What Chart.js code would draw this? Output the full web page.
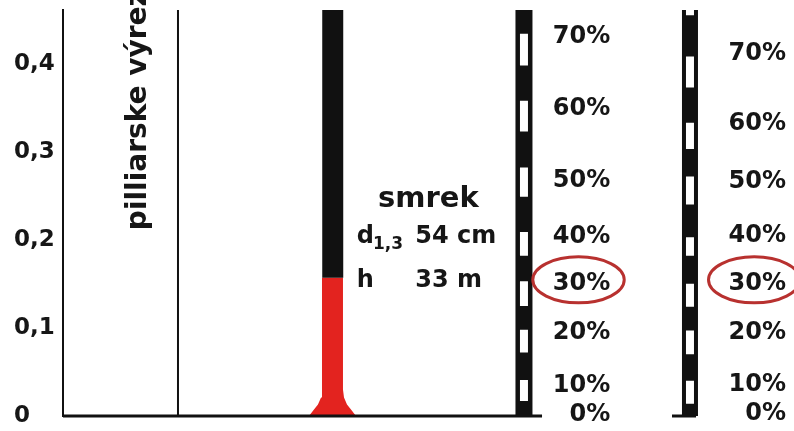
<!DOCTYPE html>
<html>
<head>
<meta charset="utf-8">
<script src="https://cdn.jsdelivr.net/npm/chart.js@4.4.1/dist/chart.umd.min.js"></script>
<style>
  html, body { margin: 0; padding: 0; background: #fff; }
  #wrap { width: 794px; height: 431px; }
</style>
</head>
<body>
<div id="wrap"><canvas id="grafico"></canvas></div>
<script>
// os y
const yTicks = [0, 0.1, 0.2, 0.3, 0.4];
const yMax = 0.461;

// polohy na osi x (relativne jednotky 0-100)
const dividerX = 15.73;
const stemX = 36.9;
const strip1X = 63.06;
const strip2X = 85.77;
const baseEnd = 65.53;
const foot2 = [83.31, 86.6];

// kmen smreka
const stemTop = 0.461;
const redTop = 0.157;
const flareX = [33.65, 34.2, 34.88, 35.3, 35.43, 35.43, 38.3, 38.3, 38.44, 38.85, 39.53, 40.08];
const flareY = [0, 0.006, 0.013, 0.021, 0.03, 0.157, 0.157, 0.03, 0.021, 0.013, 0.006, 0];

// biele useky na pruhoch
const strip1Dashes = [[0.017, 0.041], [0.072, 0.098], [0.125, 0.153], [0.182, 0.209], [0.249, 0.282], [0.323, 0.358], [0.398, 0.434]];
const strip2Dashes = [[0.014, 0.040], [0.070, 0.097], [0.124, 0.150], [0.182, 0.203], [0.240, 0.272], [0.303, 0.333], [0.373, 0.408], [0.455, 0.47]];

// percenta pri pruhoch
const pctLabels = ['0%', '10%', '20%', '30%', '40%', '50%', '60%', '70%'];
const pctPos1 = [0.001, 0.034, 0.095, 0.150, 0.203, 0.267, 0.349, 0.430];
const pctPos2 = [0.003, 0.035, 0.094, 0.150, 0.205, 0.266, 0.332, 0.411];
const circled = '30%';

const BLACK = '#111111';
const RED = '#e3231f';
const TXT = '#161616';
const FONT = 'DejaVu Sans';

const seg = (x, pairs) => pairs.flatMap(([a, b]) => [{x: x, y: a}, {x: x, y: b}, {x: x, y: null}]);
const vline = (x, a, b) => [{x: x, y: a}, {x: x, y: b}];

const lineDs = (data, color, width, extra) => Object.assign({
  data: data,
  borderColor: color,
  borderWidth: width,
  borderCapStyle: 'butt',
  pointRadius: 0,
  tension: 0,
  fill: false
}, extra || {});

const annot = {
  id: 'annot',
  afterDatasetsDraw(chart) {
    const {ctx, scales: {x, y}} = chart;
    ctx.save();
    ctx.fillStyle = TXT;
    ctx.textBaseline = 'alphabetic';
    ctx.textAlign = 'left';

    // zvisly popis
    ctx.save();
    ctx.translate(x.getPixelForValue(11.35), y.getPixelForValue(0.211));
    ctx.rotate(-Math.PI / 2);
    ctx.font = 'bold 28px ' + FONT;
    ctx.fillText('pilliarske výrezy', 0, 0);
    ctx.restore();

    // smrek
    ctx.font = 'bold 29px ' + FONT;
    ctx.fillText('smrek', x.getPixelForValue(43.1), y.getPixelForValue(0.237));
    ctx.font = 'bold 24px ' + FONT;
    const dY = y.getPixelForValue(0.196);
    const hY = y.getPixelForValue(0.146);
    ctx.fillText('d', x.getPixelForValue(40.2), dY);
    ctx.font = 'bold 17px ' + FONT;
    ctx.fillText('1,3', x.getPixelForValue(42.4), dY + 6);
    ctx.font = 'bold 24px ' + FONT;
    ctx.fillText('54', x.getPixelForValue(48.2), dY);
    ctx.fillText('cm', x.getPixelForValue(53.9), dY);
    ctx.fillText('h', x.getPixelForValue(40.2), hY);
    ctx.fillText('33', x.getPixelForValue(48.2), hY);
    ctx.fillText('m', x.getPixelForValue(53.9), hY);

    // percenta (zarovnane doprava)
    ctx.font = 'bold 24px ' + FONT;
    ctx.textBaseline = 'middle';
    ctx.textAlign = 'right';
    const cols = [[74.86, pctPos1], [98.9, pctPos2]];
    cols.forEach(([cx, pos]) => {
      const px = x.getPixelForValue(cx);
      pctLabels.forEach((lab, i) => {
        const py = y.getPixelForValue(pos[i]);
        ctx.fillStyle = TXT;
        ctx.fillText(lab, px, py);
        if (lab === circled) {
          const w = ctx.measureText(lab).width;
          ctx.beginPath();
          ctx.ellipse(px - w / 2 - 3, py - 4, w / 2 + 17, 23, 0, 0, Math.PI * 2);
          ctx.strokeStyle = '#b8312f';
          ctx.lineWidth = 3;
          ctx.stroke();
        }
      });
    });
    ctx.restore();
  }
};

new Chart(document.getElementById('grafico'), {
  type: 'line',
  data: {
    datasets: [
      lineDs(seg(strip1X, strip1Dashes), '#ffffff', 8),
      lineDs(seg(strip2X, strip2Dashes), '#ffffff', 8),
      lineDs(vline(strip1X, 0, stemTop), BLACK, 17),
      lineDs(vline(strip2X, 0, stemTop), BLACK, 16),
      lineDs([{x: 0, y: 0}, {x: baseEnd, y: 0}], BLACK, 3, {clip: false}),
      lineDs([{x: foot2[0], y: 0}, {x: foot2[1], y: 0}], BLACK, 3, {clip: false}),
      lineDs(vline(dividerX, 0, stemTop), BLACK, 2),
      lineDs(vline(stemX, redTop, stemTop), BLACK, 21),
      lineDs(flareX.map((v, i) => ({x: v, y: flareY[i]})), 'rgba(0,0,0,0)', 0, {fill: 'origin', backgroundColor: RED})
    ]
  },
  options: {
    responsive: true,
    maintainAspectRatio: false,
    animation: false,
    layout: {padding: {left: 14, top: 8, right: 0, bottom: 15}},
    plugins: {legend: {display: false}, tooltip: {enabled: false}},
    scales: {
      x: {type: 'linear', min: 0, max: 100, display: false},
      y: {
        min: 0,
        max: yMax,
        afterFit: s => { s.width = 49; },
        afterBuildTicks: s => { s.ticks = yTicks.map(v => ({value: v})); },
        grid: {drawOnChartArea: false, drawTicks: false},
        border: {display: true, color: BLACK, width: 2},
        ticks: {
          crossAlign: 'far',
          color: TXT,
          font: {family: FONT, weight: 'bold', size: 23, lineHeight: 0.6},
          callback: v => v === 0 ? '0' : v.toFixed(1).replace('.', ',')
        }
      }
    }
  },
  plugins: [annot]
});
</script>
</body>
</html>
